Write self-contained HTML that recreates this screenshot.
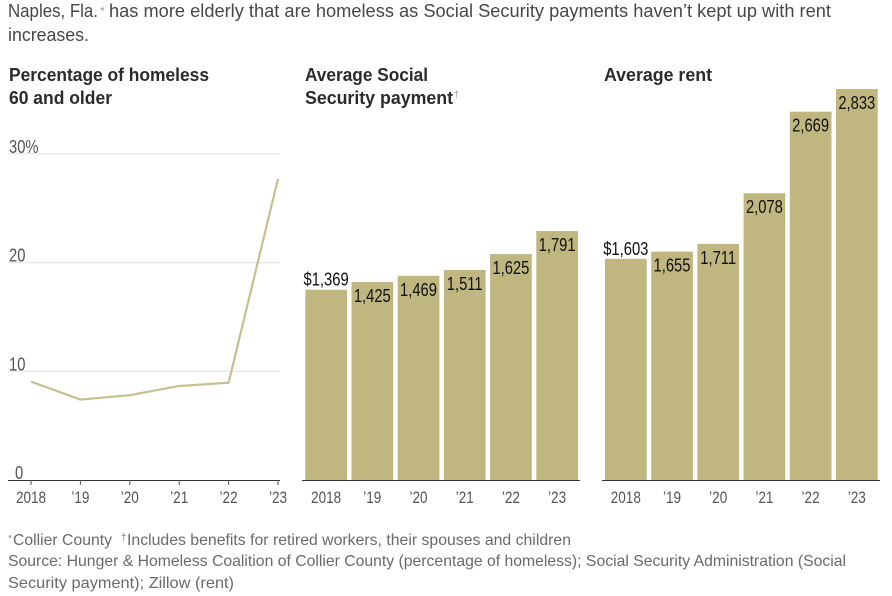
<!DOCTYPE html>
<html lang="en">
<head>
<meta charset="utf-8">
<title>Naples homelessness and rent chart</title>
<style>
html,body{margin:0;padding:0;background:#fff;width:892px;height:596px;overflow:hidden}
svg{display:block;font-family:"Liberation Sans",sans-serif}
.lead{font-size:18px;fill:#474747}
.head{font-size:18px;font-weight:bold;fill:#2b2b2b}
.note{font-size:16px;fill:#6a6a6a}
.tick{font-size:16.5px;fill:#555}
.ytick{font-size:18px;fill:#555}
.val{font-size:18px;fill:#111}
</style>
</head>
<body>
<svg id="chart" width="892" height="596" viewBox="0 0 892 596" xmlns="http://www.w3.org/2000/svg">
  <text class="lead" x="8" y="17" textLength="90" lengthAdjust="spacingAndGlyphs">Naples, Fla.</text>
  <text x="100" y="15" font-size="12" fill="#999">*</text>
  <text class="lead" x="109" y="17" textLength="722" lengthAdjust="spacingAndGlyphs">has more elderly that are homeless as Social Security payments haven’t kept up with rent</text>
  <text class="lead" x="8" y="41" textLength="81" lengthAdjust="spacingAndGlyphs">increases.</text>

  <text class="head" x="9" y="81" textLength="200" lengthAdjust="spacingAndGlyphs">Percentage of homeless</text>
  <text class="head" x="9" y="104" textLength="103" lengthAdjust="spacingAndGlyphs">60 and older</text>
  <text class="head" x="305" y="81" textLength="123" lengthAdjust="spacingAndGlyphs">Average Social</text>
  <text class="head" x="305" y="104" textLength="148" lengthAdjust="spacingAndGlyphs">Security payment</text>
  <text x="453.5" y="98" font-size="10" fill="#999">†</text>
  <text class="head" x="604" y="81" textLength="108" lengthAdjust="spacingAndGlyphs">Average rent</text>

  <g id="line-panel"></g>
  <g id="ss-panel"></g>
  <g id="rent-panel"></g>

  <text x="8" y="542" font-size="11" fill="#999">*</text>
  <text class="note" x="13" y="545" textLength="99" lengthAdjust="spacingAndGlyphs">Collier County</text>
  <text x="121" y="541" font-size="10" fill="#777">†</text>
  <text class="note" x="127" y="545" textLength="444" lengthAdjust="spacingAndGlyphs">Includes benefits for retired workers, their spouses and children</text>
  <text class="note" x="8" y="566" textLength="838" lengthAdjust="spacingAndGlyphs">Source: Hunger &amp; Homeless Coalition of Collier County (percentage of homeless); Social Security Administration (Social</text>
  <text class="note" x="8" y="588" textLength="226" lengthAdjust="spacingAndGlyphs">Security payment); Zillow (rent)</text>
</svg>
<script>
const years = ['2018', '’19', '’20', '’21', '’22', '’23'];
const homelessPct = [9.05, 7.4, 7.8, 8.65, 8.95, 27.7];
const pctTicks = [0, 10, 20, 30];
const socialSecurity = [1369, 1425, 1469, 1511, 1625, 1791];
const rent = [1603, 1655, 1711, 2078, 2669, 2833];
const NS = 'http://www.w3.org/2000/svg';
const baseY = 480;
const barColor = '#bfb77f';

function make(parent, tag, attrs) {
  const el = document.createElementNS(NS, tag);
  for (const k in attrs) el.setAttribute(k, attrs[k]);
  parent.appendChild(el);
  return el;
}
function squeeze(el, f) {
  el.setAttribute('textLength', (el.getComputedTextLength() * f).toFixed(1));
  el.setAttribute('lengthAdjust', 'spacingAndGlyphs');
}
const yPct = v => baseY - v * 10.87;
const xLine = i => 31 + i * 49.4;

const linePanel = document.getElementById('line-panel');
pctTicks.forEach(t => {
  if (t > 0) {
    const g = make(linePanel, 'line', {x1: 8, x2: 280, y1: yPct(t), y2: yPct(t), stroke: '#e9e9e9', 'stroke-width': 1.5});
    
    
  }
  const l = make(linePanel, 'text', {x: t === 0 ? 15 : 9, y: yPct(t) - 1, class: 'ytick'});
  l.textContent = t === 30 ? t + '%' : String(t);
  
  
  squeeze(l, 0.82);
});
const path = make(linePanel, 'polyline', {
  points: homelessPct.map((v, i) => xLine(i) + ',' + yPct(v)).join(' '),
  fill: 'none', stroke: '#c6bf8e', 'stroke-width': 2.2, 'stroke-linejoin': 'round'
});



function axis(parent, x1, x2, xAt, withTicks) {
  const a = make(parent, 'line', {x1: x1, x2: x2, y1: baseY + 0.5, y2: baseY + 0.5, stroke: '#333', 'stroke-width': 1});
  
  
  years.forEach((y, i) => {
    if (withTicks) {
      const tk = make(parent, 'line', {x1: xAt(i), x2: xAt(i), y1: baseY, y2: baseY + 5, stroke: '#555', 'stroke-width': 1});
      
      
    }
    const t = make(parent, 'text', {x: xAt(i), y: baseY + 23, 'text-anchor': 'middle', class: 'tick'});
    t.textContent = y;
    
    
    squeeze(t, 0.82);
  });
}
axis(linePanel, 8, 280, xLine, true);

function barPanel(panel, values, x0, axisStart, axisEnd, k) {
  const xBar = i => x0 + i * 46.2;
  const yBar = v => baseY - v * k;
  values.forEach((v, i) => {
    const top = yBar(v);
    const r = make(panel, 'rect', {x: xBar(i), y: top, width: 41.7, height: baseY - top, fill: barColor});
    
    
    const t = make(panel, 'text', {x: xBar(i) + 20.8, y: i === 0 ? top - 4 : top + 20, 'text-anchor': 'middle', class: 'val'});
    t.textContent = (i === 0 ? '$' : '') + v.toLocaleString('en-US');
    
    
    squeeze(t, 0.82);
  });
  axis(panel, axisStart, axisEnd, i => xBar(i) + 20.8, false);
}
barPanel(document.getElementById('ss-panel'), socialSecurity, 305.3, 302, 580, 0.139);
barPanel(document.getElementById('rent-panel'), rent, 605, 602, 880, 0.138);
</script>
</body>
</html>
